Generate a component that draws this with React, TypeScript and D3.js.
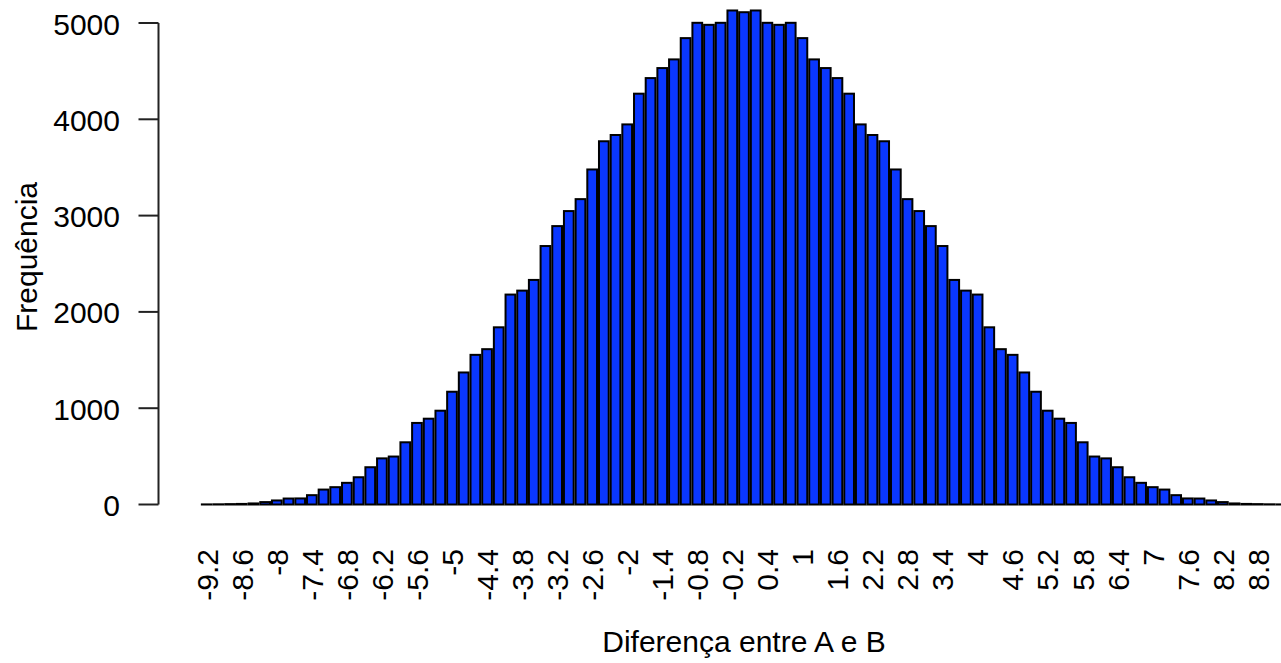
import React from "react";
import * as d3 from "d3";

// Category labels (Diferença entre A e B)
const categories: string[] = [
  "-9.2","-9","-8.8","-8.6","-8.4","-8.2","-8","-7.8","-7.6","-7.4",
  "-7.2","-7","-6.8","-6.6","-6.4","-6.2","-6","-5.8","-5.6","-5.4",
  "-5.2","-5","-4.8","-4.6","-4.4","-4.2","-4","-3.8","-3.6","-3.4",
  "-3.2","-3","-2.8","-2.6","-2.4","-2.2","-2","-1.8","-1.6","-1.4",
  "-1.2","-1","-0.8","-0.6","-0.4","-0.2","0","0.2","0.4","0.6",
  "0.8","1","1.2","1.4","1.6","1.8","2","2.2","2.4","2.6",
  "2.8","3","3.2","3.4","3.6","3.8","4","4.2","4.4","4.6",
  "4.8","5","5.2","5.4","5.6","5.8","6","6.2","6.4","6.6",
  "6.8","7","7.2","7.4","7.6","7.8","8","8.2","8.4","8.6",
  "8.8","9","9.2"
];

// Frequência
const counts: number[] = [
  1, 2, 4, 6, 11, 25, 42, 62, 63, 97,
  155, 180, 225, 283, 387, 479, 498, 646, 847, 891,
  974, 1171, 1371, 1554, 1613, 1840, 2180, 2221, 2332, 2684,
  2891, 3047, 3171, 3479, 3772, 3837, 3947, 4266, 4428, 4532,
  4622, 4843, 5002, 4981, 5002, 5130, 5112, 5130, 5002, 4981,
  5002, 4843, 4622, 4532, 4428, 4266, 3947, 3837, 3772, 3479,
  3171, 3047, 2891, 2684, 2332, 2221, 2180, 1840, 1613, 1554,
  1371, 1171, 974, 891, 847, 646, 498, 479, 387, 283,
  225, 180, 155, 97, 63, 62, 42, 25, 11, 6,
  4, 2, 1
];

// Labels shown on the x axis (R drops overlapping ones)
const shownLabels: string[] = [
  "-9.2","-8.6","-8","-7.4","-6.8","-6.2","-5.6","-5","-4.4","-3.8",
  "-3.2","-2.6","-2","-1.4","-0.8","-0.2","0.4","1","1.6","2.2",
  "2.8","3.4","4","4.6","5.2","5.8","6.4","7","7.6","8.2","8.8"
];

const yTicks: number[] = [0, 1000, 2000, 3000, 4000, 5000];

const W = 1281;
const H = 663;
const FONT = "'Liberation Sans', Arial, Helvetica, sans-serif";

export default function App() {
  const n = counts.length;
  const space = 0.2;
  const barW = 1;
  const lefts = counts.map((_, i) => space + i * (barW + space));
  const xMin = space;
  const xMax = n * (barW + space);
  const ext = 0.04 * (xMax - xMin);
  const x = d3
    .scaleLinear()
    .domain([xMin - ext, xMax + ext])
    .range([158.5, 1329.5]);

  const y = d3.scaleLinear().domain([0, 5000]).range([504.5, 23]);

  const axisX = 158.5;
  const fill = "#0a37ff";

  return (
    <svg
      width={W}
      height={H}
      style={{ position: "absolute", left: 0, top: 0, background: "#fff" }}
      fontFamily={FONT}
    >
      <rect x={0} y={0} width={W} height={H} fill="#fff" />
      {/* bars */}
      <g>
        {counts.map((v, i) => {
          const x0 = x(lefts[i]);
          const x1 = x(lefts[i] + barW);
          const y0 = y(0);
          const y1 = y(v);
          return (
            <rect
              key={i}
              x={x0}
              y={y1}
              width={x1 - x0}
              height={Math.max(0, y0 - y1)}
              fill={fill}
              stroke="#000"
              strokeWidth={2}
            />
          );
        })}
      </g>
      {/* y axis */}
      <g>
        <line
          x1={axisX}
          x2={axisX}
          y1={y(0)}
          y2={y(5000)}
          stroke="#222"
          strokeWidth={2}
        />
        {yTicks.map((t) => (
          <g key={t}>
            <line
              x1={axisX - 20}
              x2={axisX}
              y1={y(t)}
              y2={y(t)}
              stroke="#222"
              strokeWidth={2}
            />
            <text
              x={120}
              y={y(t) + 11.5}
              textAnchor="end"
              fontSize={30}
              fill="#000"
            >
              {t}
            </text>
          </g>
        ))}
      </g>
      {/* x labels */}
      <g>
        {categories.map((c, i) => {
          if (!shownLabels.includes(c)) return null;
          const cx = x(lefts[i] + barW / 2);
          const bx = cx + 10.8;
          const by = 549;
          return (
            <text
              key={c}
              x={bx}
              y={by}
              textAnchor="end"
              fontSize={30}
              fill="#000"
              transform={`rotate(-90 ${bx} ${by})`}
            >
              {c}
            </text>
          );
        })}
      </g>
      {/* axis titles */}
      <text
        x={(x(xMin - ext) + x(xMax + ext)) / 2}
        y={652}
        textAnchor="middle"
        fontSize={30}
        fill="#000"
      >
        Diferença entre A e B
      </text>
      <text
        x={37}
        y={257}
        textAnchor="middle"
        fontSize={30}
        fill="#000"
        transform="rotate(-90 37 257)"
      >
        Frequência
      </text>
    </svg>
  );
}
